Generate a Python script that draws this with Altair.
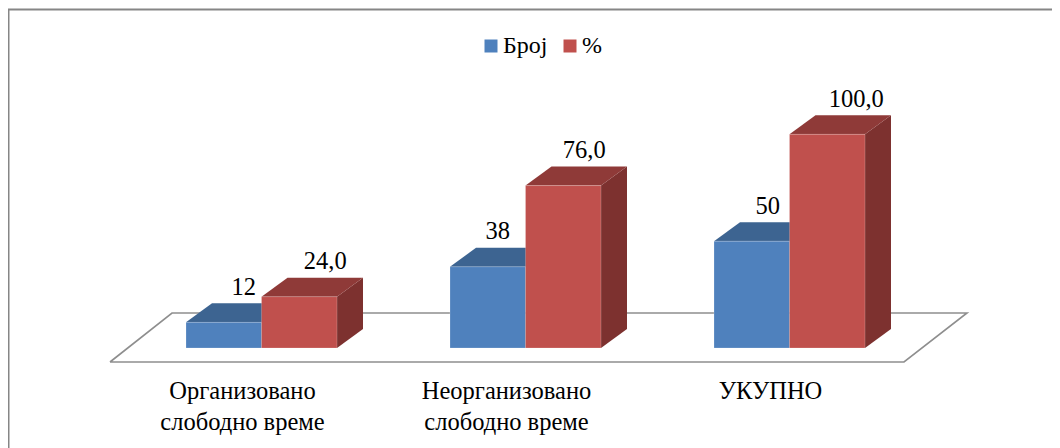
import altair as alt
import pandas as pd

categories = ["Организовано\nслободно време", "Неорганизовано\nслободно време", "УКУПНО"]
broj = [12, 38, 50]
procenat = [24.0, 76.0, 100.0]
series_names = ["Број", "%"]
value_labels_broj = ["12", "38", "50"]
value_labels_pct = ["24,0", "76,0", "100,0"]

# layout constants
W, H = 1044, 440
PX_CAT = 264.0
PX_VAL = 2.137
ORIGIN_X, ORIGIN_Y = 253.5, 340.0
BAR = 75.5 / PX_CAT
DX = 26 / PX_CAT
DY = 19 / PX_VAL
FONT = "Liberation Serif"
x_scale = alt.Scale(domain=[-ORIGIN_X / PX_CAT, (W - ORIGIN_X) / PX_CAT], range=[0, W], nice=False, zero=False)
y_scale = alt.Scale(domain=[(ORIGIN_Y - H) / PX_VAL, ORIGIN_Y / PX_VAL], range=[H, 0], nice=False, zero=False)
X = alt.X("x:Q", scale=x_scale, axis=None)
Y = alt.Y("y:Q", scale=y_scale, axis=None)

colors = {"Број": ("#4F81BD", "#3D6491", "#335378"), "%": ("#C0504D", "#8F3A38", "#7D312F")}


def faces(name, values, offset):
    front, top, side = [], [], []
    for i, v in enumerate(values):
        x0 = i + offset
        x1 = x0 + BAR
        front.append(dict(x=x0, x2=x1, y=v, y2=0, s=name))
        top += [
            dict(b=i, x=x0, y=v, y2=v),
            dict(b=i, x=x0 + DX, y=v + DY, y2=v),
            dict(b=i, x=x1, y=v + DY, y2=v),
            dict(b=i, x=x1 + DX, y=v + DY, y2=v + DY),
        ]
        side += [dict(b=i, x=x1, y=v, y2=0), dict(b=i, x=x1 + DX, y=v + DY, y2=DY)]
    return pd.DataFrame(front), pd.DataFrame(top), pd.DataFrame(side)


def bar_layers(name, values, offset):
    front, top, side = faces(name, values, offset)
    c = colors[name]
    return [
        alt.Chart(side).mark_area(color=c[2]).encode(x=X, y=Y, y2="y2:Q", detail="b:N"),
        alt.Chart(top).mark_area(color=c[1]).encode(x=X, y=Y, y2="y2:Q", detail="b:N"),
        alt.Chart(front).mark_rect(stroke="#FFFFFF", strokeOpacity=0.25, strokeWidth=0.8).encode(
            x=X, x2="x2:Q", y=Y, y2="y2:Q",
            color=alt.Color(
                "s:N",
                scale=alt.Scale(domain=series_names, range=[colors[n][0] for n in series_names]),
                legend=alt.Legend(
                    title=None, orient="none", legendX=471, legendY=26, direction="horizontal",
                    symbolType="square", symbolSize=169, symbolStrokeWidth=0, labelFont=FONT,
                    labelFontSize=24, labelColor="#000000", columnPadding=10, labelOffset=0,
                    symbolOpacity=1,
                ),
            ),
        ),
    ]


# floor plate, in chart units
floor_front = -14 / PX_VAL
floor_back = 35 / PX_VAL
floor = pd.DataFrame(
    {
        "o": [0, 1, 2, 3, 4],
        "x": [-151.5 / PX_CAT, 642.5 / PX_CAT, 705.5 / PX_CAT, -89.5 / PX_CAT, -151.5 / PX_CAT],
        "y": [floor_front, floor_front, floor_back, floor_back, floor_front],
    }
)
floor_layer = alt.Chart(floor).mark_line(color="#8E8E8E", strokeWidth=1.6, strokeJoin="miter").encode(
    x=X, y=Y, order="o:Q"
)

# frame
frame = [
    alt.Chart(pd.DataFrame({"a": [0]})).mark_rule(color="#868686", strokeWidth=2).encode(
        x=alt.value(0), x2=alt.value(W), y=alt.value(1.5)
    ),
    alt.Chart(pd.DataFrame({"a": [0]})).mark_rule(color="#868686", strokeWidth=2).encode(
        x=alt.value(0.5), y=alt.value(1.5), y2=alt.value(H)
    ),
]

# value labels, nudged the way the original's were
labels = []
for i in range(3):
    for val, txt, off, nudge in (
        (broj[i], value_labels_broj[i], -BAR / 2, [20, 10, 16][i]),
        (procenat[i], value_labels_pct[i], BAR / 2, [26, 21, 29][i]),
    ):
        d = pd.DataFrame({"x": [i + off], "y": [val], "t": [txt]})
        labels.append(
            alt.Chart(d).mark_text(
                font=FONT, fontSize=24.5, color="#000000", baseline="alphabetic", align="center",
                dx=nudge, dy=-27.5,
            ).encode(x=X, y=Y, text="t:N")
        )

cat_df = pd.DataFrame({"x": [0, 1, 2], "y": [-51 / PX_VAL] * 3, "t": categories})
cat_labels = alt.Chart(cat_df).mark_text(
    font=FONT, fontSize=24.5, color="#000000", baseline="alphabetic", align="center",
    lineBreak="\n", lineHeight=31, dx=-19,
).encode(x=X, y=Y, text="t:N")

chart = alt.layer(
    *frame,
    floor_layer,
    *bar_layers("Број", broj, -BAR),
    *bar_layers("%", procenat, 0),
    *labels,
    cat_labels,
).properties(
    width=W, height=H, padding=0, autosize=alt.AutoSizeParams(type="none"),
    background="#FFFFFF",
).configure_view(stroke=None)

chart.save("out.html", embed_options={"renderer": "svg", "actions": False})
